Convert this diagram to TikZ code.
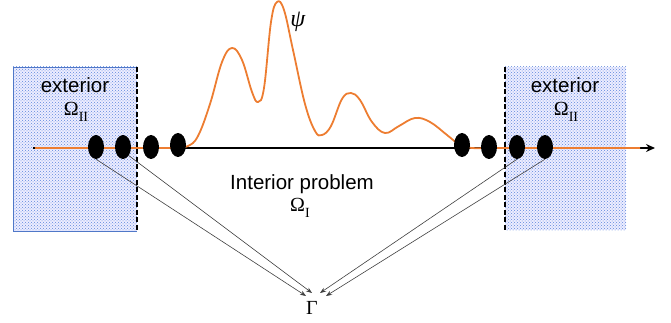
\documentclass[tikz,border=0pt]{standalone}
\usepackage{fontspec}
\setmainfont{Liberation Serif}
\newfontfamily\arialfont{Liberation Sans}
\usetikzlibrary{patterns,arrows.meta,shapes.geometric}
\definecolor{wave}{RGB}{237,125,49}
\definecolor{boxblue}{RGB}{80,120,200}
\definecolor{dotblue}{RGB}{95,135,220}
\tikzset{
  blob/.style={ellipse, fill=black, minimum width=16pt, minimum height=24pt, inner sep=0pt},
  lbl/.style={font=\arialfont\fontsize{20.5}{24}\selectfont, inner sep=0pt},
  sym/.style={font=\fontsize{20}{24}\selectfont, inner sep=0pt},
  ray/.style={draw=black!75, line width=0.6pt, -{Stealth[length=6pt,width=4.5pt]}},
  divider/.style={black, line width=1.1pt, dash pattern=on 5pt off 2.5pt},
}
\begin{document}
\begin{tikzpicture}[x=1pt,y=-1pt]
\useasboundingbox (0,0) rectangle (671,323);
% exterior boxes
\fill[blue!7] (13,67) rectangle (137,231);
\fill[pattern=crosshatch dots, pattern color=dotblue] (13,67) rectangle (137,231);
\draw[boxblue, line width=0.8pt] (137,67) -- (13,67) -- (13,231) -- (137,231);
\draw[divider] (137,67) -- (137,231);
\fill[blue!7] (505,67) rectangle (626,230);
\fill[pattern=crosshatch dots, pattern color=dotblue] (505,67) rectangle (626,230);
\draw[divider] (505,67) -- (505,230);
% labels
\node[lbl] (extL) at (75,85) {exterior};
\node[sym] (omL) at (76,112) {Ω\raisebox{-0.3em}{\fontsize{14}{16}\selectfont II}};
\node[lbl] (extR) at (565,85) {exterior};
\node[sym] (omR) at (566,112) {Ω\raisebox{-0.3em}{\fontsize{14}{16}\selectfont II}};
\node[lbl] (intr) at (302,184) {Interior problem};
\node[sym] (omI) at (300,208) {Ω\raisebox{-0.3em}{\fontsize{14}{16}\selectfont I}};
\node[sym, font=\fontsize{24}{28}\selectfont] (psi) at (298,22) {\textit{ψ}};
% axis
\coordinate (axL) at (33,148);
\coordinate (axR) at (655,148);
\draw[line width=2.2pt, -{Stealth[length=9pt,width=8pt]}] (axL) -- (axR);
% wave
\draw[wave, line width=1.8pt, line join=round]
  (35,148) -- (176,148)
  plot[smooth, tension=0.65] coordinates {(176,148) (188,146) (198,136) (210,104) (222,62) (232,48) (242,60) (252,92) (258,102) (264,88) (271,22) (277,2) (284,10) (293,50) (305,104) (315,131) (322,135) (331,126) (342,99) (351,93) (360,100) (372,122) (385,133) (399,126) (415,118) (430,122) (447,135) (460,145) (472,148) (484,148)}
  -- (640,148);
% blobs
\node[blob] (e1) at (96,147) {};
\node[blob] (e2) at (123,147) {};
\node[blob] (e3) at (151,147) {};
\node[blob] (e4) at (178,145) {};
\node[blob] (e5) at (462,145) {};
\node[blob] (e6) at (489,147) {};
\node[blob] (e7) at (517,147) {};
\node[blob] (e8) at (545,147) {};
% Gamma
\node[sym] (G) at (312,308) {Γ};
\coordinate (g1) at (306,296);
\coordinate (g2) at (312,293);
\coordinate (g3) at (320,293);
\coordinate (g4) at (326,296);
\draw[ray] (e1.south) -- (g1);
\draw[ray] (e2.south east) -- (g2);
\draw[ray] (e7.south) -- (g3);
\draw[ray] (e8.south) -- (g4);
\end{tikzpicture}
\end{document}
